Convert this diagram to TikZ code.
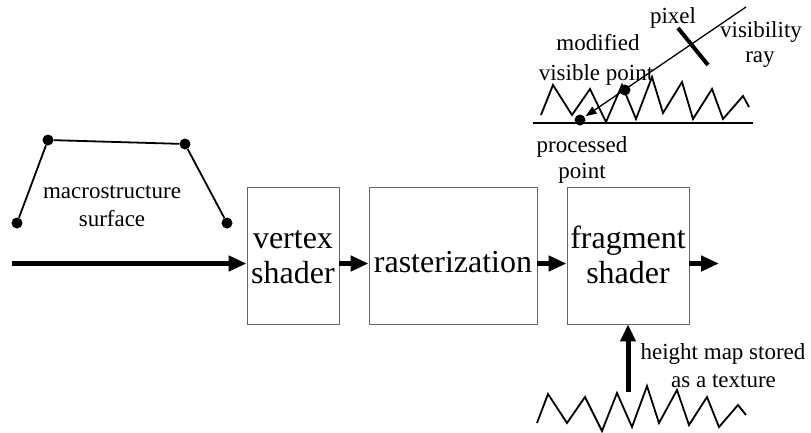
\documentclass[tikz,border=0pt]{standalone}
\usepackage{fontspec}
\setmainfont{Liberation Serif}
\usetikzlibrary{arrows.meta}
\begin{document}
\begin{tikzpicture}[x=1pt,y=-1pt,
  box/.style={draw=black!60, line width=0.9pt, inner sep=0pt, minimum height=137pt},
  big/.style={font=\fontsize{32}{35}\selectfont, anchor=base, inner sep=0pt},
  small/.style={font=\fontsize{23}{28}\selectfont, anchor=base, inner sep=0pt},
  dot/.style={circle, fill=black, inner sep=0pt, minimum size=11pt},
  flow/.style={line width=5pt, -{Triangle[length=18pt,width=15pt]}},
  zig/.style={line width=1.8pt, line join=miter, miter limit=10},
  ray/.style={line width=1.3pt, -{Triangle[length=11pt,width=8pt]}, shorten >=1pt}]
\useasboundingbox (0,0) rectangle (811,432);

% boxes
\node[box, minimum width=92pt] (vs) at (293,255.5) {};
\node[box, minimum width=168pt] (rast) at (453,255.5) {};
\node[box, minimum width=122pt] (fs) at (628,255.5) {};
\node[big] (vs1) at (293,248) {vertex};
\node[big] (vs2) at (293,283) {shader};
\node[big] (ra1) at (453,272) {rasterization};
\node[big] (fs1) at (628,248) {fragment};
\node[big] (fs2) at (628,283) {shader};

% flow arrows
\coordinate (in) at (12,263.5);
\coordinate (out) at (719,263.5);
\draw[flow] (in) -- (in -| vs.west);
\draw[flow] (vs.east |- in) -- (rast.west |- in);
\draw[flow] (rast.east |- in) -- (fs.west |- in);
\draw[flow] (fs.east |- in) -- (out);
\coordinate (hm) at (628,392);
\draw[flow, -{Triangle[length=17pt,width=15pt]}] (hm) -- (hm |- fs.south);

% macrostructure surface
\node[dot] (p1) at (17,223) {};
\node[dot] (p2) at (48,140) {};
\node[dot] (p3) at (185,144) {};
\node[dot] (p4) at (227,223) {};
\draw[line width=1.8pt] (p1) -- (p2) -- (p3) -- (p4);
\node[small] (ms1) at (112,198) {macrostructure};
\node[small] (ms2) at (112,226) {surface};

% height map
\draw[zig] (537,423) -- (548,394) -- (567,423) -- (585,397) -- (602,431) -- (617,393) -- (632,427) -- (647,386) -- (659,423) -- (677,390) -- (689,425) -- (707,397) -- (719,427) -- (738,405) -- (746,415);
\node[small] (hm1) at (723,359) {height map stored};
\node[small] (hm2) at (723.5,387) {as a texture};

% detail
\coordinate (g1) at (533,123);
\coordinate (g2) at (753,123);
\draw[line width=1.8pt] (g1) -- (g2);
\draw[zig] (541,115) -- (553,85) -- (572,115) -- (590,89) -- (606,122) -- (622,85) -- (636,119) -- (652,77) -- (663,113) -- (682,82) -- (693,119) -- (712,89) -- (723,119) -- (743,96) -- (749,107);
\node[dot] (pp) at (580,120) {};
\node[dot] (mp) at (625,90) {};
\coordinate (rs) at (746,7);
\draw[ray] (rs) -- (pp);
\coordinate (px1) at (678,28);
\coordinate (px2) at (708,65);
\draw[line width=4pt] (px1) -- (px2);
\node[small] (lpx) at (673,23) {pixel};
\node[small] (lvr1) at (761,37) {visibility};
\node[small] (lvr2) at (760,62) {ray};
\node[small] (lmv1) at (598,50) {modified};
\node[small] (lmv2) at (596,80) {visible point};
\node[small] (lpp1) at (582,152) {processed};
\node[small] (lpp2) at (582,178) {point};
\end{tikzpicture}
\end{document}
